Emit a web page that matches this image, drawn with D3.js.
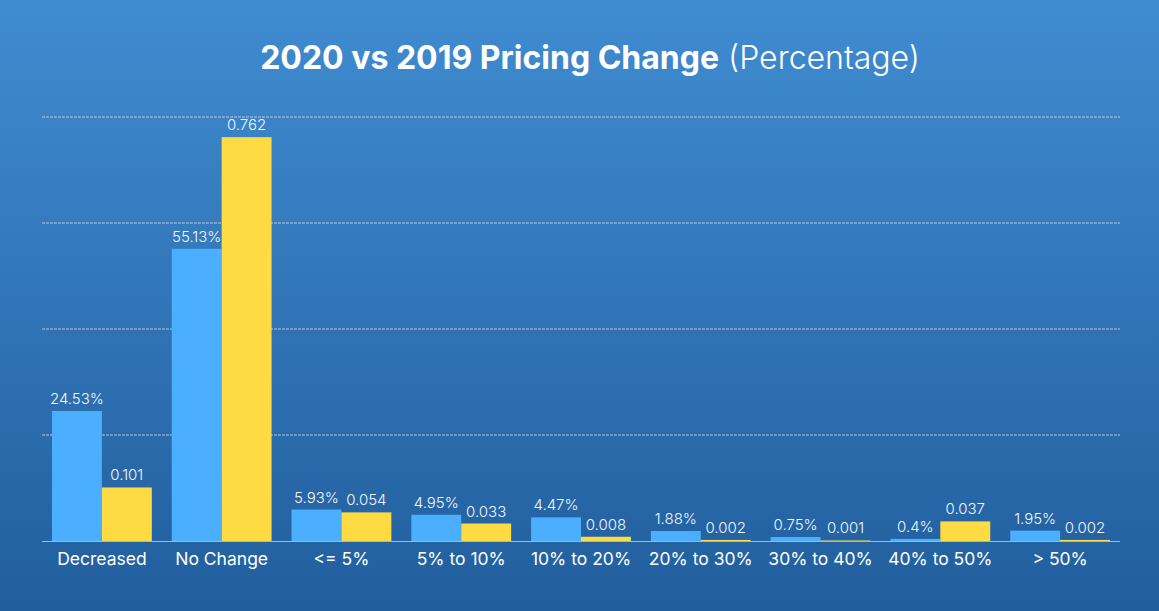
<!DOCTYPE html>
<html><head><meta charset="utf-8">
<script src="https://cdn.jsdelivr.net/npm/d3@7"></script>
<style>html,body{margin:0;padding:0;overflow:hidden;}svg{display:block;}</style>
</head><body>
<script>
const categories = ["Decreased","No Change","<= 5%","5% to 10%","10% to 20%","20% to 30%","30% to 40%","40% to 50%","> 50%"];
const series2020 = [0.2453,0.5513,0.0593,0.0495,0.0447,0.0188,0.0075,0.004,0.0195];
const labels2020 = ["24.53%","55.13%","5.93%","4.95%","4.47%","1.88%","0.75%","0.4%","1.95%"];
const series2019 = [0.101,0.762,0.054,0.033,0.008,0.002,0.001,0.037,0.002];
const labels2019 = ["0.101","0.762","0.054","0.033","0.008","0.002","0.001","0.037","0.002"];
const gridTicks = [0.2,0.4,0.6,0.8];

const W=1159,H=611;
const font='"Inter","Open Sans",sans-serif';
const svg=d3.select("body").append("svg").attr("width",W).attr("height",H);
const defs=svg.append("defs");
const g=defs.append("linearGradient").attr("id","bg").attr("x1",0).attr("y1",0).attr("x2",0).attr("y2",1);
g.append("stop").attr("offset","0%").attr("stop-color","#408cd1");
g.append("stop").attr("offset","100%").attr("stop-color","#215e9d");
svg.append("rect").attr("width",W).attr("height",H).attr("fill","url(#bg)");

const x=d3.scaleBand().domain(categories).range([42,1120]).paddingInner(0.1667).paddingOuter(0.0833);
const y=d3.scaleLinear().domain([0,0.8]).range([541,117]);
const sub=d3.scaleBand().domain(["a","b"]).range([0,x.bandwidth()]);

svg.append("g").selectAll("line").data(gridTicks).join("line")
 .attr("x1",42).attr("x2",1120).attr("y1",d=>y(d)).attr("y2",d=>y(d))
 .attr("stroke","#bcc6d6").attr("stroke-width",1).attr("stroke-dasharray","3,1");

const grp=svg.append("g").selectAll("g").data(categories).join("g")
 .attr("transform",d=>`translate(${x(d)},0)`);
grp.append("rect").attr("x",sub("a")).attr("width",sub.bandwidth())
 .attr("y",(d,i)=>y(series2020[i])).attr("height",(d,i)=>y(0)-y(series2020[i])).attr("fill","#4baeff");
grp.append("rect").attr("x",sub("b")).attr("width",sub.bandwidth())
 .attr("y",(d,i)=>y(series2019[i])).attr("height",(d,i)=>y(0)-y(series2019[i])).attr("fill","#ffdb43");
grp.append("text").attr("x",sub("a")+sub.bandwidth()/2).attr("y",(d,i)=>y(series2020[i])-7)
 .attr("text-anchor","middle").attr("fill","#f2f6fb").attr("font-family",font).attr("font-size",15).attr("font-weight",300)
 .text((d,i)=>labels2020[i]);
grp.append("text").attr("x",sub("b")+sub.bandwidth()/2).attr("y",(d,i)=>y(series2019[i])-7)
 .attr("text-anchor","middle").attr("fill","#f2f6fb").attr("font-family",font).attr("font-size",15).attr("font-weight",300)
 .text((d,i)=>labels2019[i]);

svg.append("line").attr("x1",42).attr("x2",1120).attr("y1",y(0)+0.5).attr("y2",y(0)+0.5)
 .attr("stroke","#aab6c8").attr("stroke-width",1.2);

const xa=svg.append("g").attr("transform",`translate(0,${y(0)})`).call(d3.axisBottom(x).tickSize(0).tickPadding(12));
xa.select(".domain").remove();
xa.selectAll("text").attr("fill","#ffffff").attr("font-family",font).attr("font-size",17.5).attr("font-weight",400);

const t=svg.append("text").attr("x",590).attr("y",69).attr("text-anchor","middle")
 .attr("fill","#ffffff").attr("font-family",font).attr("font-size",32);
t.append("tspan").attr("font-weight",700).text("2020 vs 2019 Pricing Change");
t.append("tspan").attr("font-weight",300).text(" (Percentage)");
</script>
</body></html>
